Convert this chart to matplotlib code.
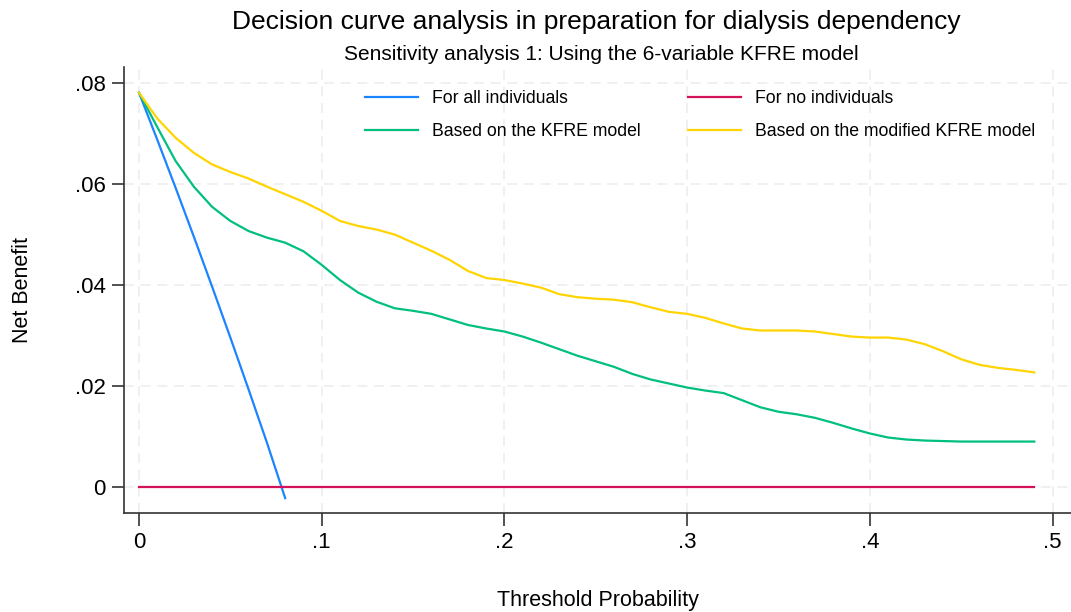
import matplotlib
matplotlib.use('Agg')
import matplotlib.pyplot as plt
import numpy as np

plt.rcParams['font.family'] = ['Liberation Sans', 'DejaVu Sans']

# threshold probabilities (step 0.01)
thresh = [round(0.01 * i, 2) for i in range(50)]

# net benefit, treat all (only drawn until it drops below zero)
thresh_all = [0.00, 0.01, 0.02, 0.03, 0.04, 0.05, 0.06, 0.07, 0.08]
nb_all = [0.0781, 0.0688, 0.0593, 0.0496, 0.0397, 0.0296, 0.0193, 0.0088, -0.0022]

# net benefit, treat none
nb_none = [0.0] * 50

# KFRE model
nb_kfre = [0.0781, 0.0713, 0.0646, 0.0595, 0.0555, 0.0527, 0.0507, 0.0494, 0.0484, 0.0467,
           0.0440, 0.0410, 0.0385, 0.0367, 0.0354, 0.0349, 0.0343, 0.0332, 0.0321, 0.0314,
           0.0308, 0.0298, 0.0286, 0.0273, 0.0260, 0.0249, 0.0238, 0.0224, 0.0213, 0.0205,
           0.0197, 0.0191, 0.0186, 0.0172, 0.0158, 0.0149, 0.0144, 0.0137, 0.0127, 0.0116,
           0.0106, 0.0098, 0.0094, 0.0092, 0.0091, 0.0090, 0.0090, 0.0090, 0.0090, 0.0090]

# modified KFRE model
nb_mod = [0.0781, 0.0730, 0.0692, 0.0662, 0.0639, 0.0624, 0.0611, 0.0595, 0.0580, 0.0565,
          0.0547, 0.0527, 0.0517, 0.0510, 0.0500, 0.0484, 0.0468, 0.0450, 0.0428, 0.0414,
          0.0410, 0.0403, 0.0395, 0.0382, 0.0376, 0.0373, 0.0371, 0.0366, 0.0356, 0.0347,
          0.0343, 0.0335, 0.0324, 0.0314, 0.0310, 0.0310, 0.0310, 0.0308, 0.0303, 0.0298,
          0.0296, 0.0296, 0.0292, 0.0283, 0.0269, 0.0253, 0.0242, 0.0236, 0.0232, 0.0227]

xticks = [0, 0.1, 0.2, 0.3, 0.4, 0.5]
xtick_labels = ['0', '.1', '.2', '.3', '.4', '.5']
yticks = [0, 0.02, 0.04, 0.06, 0.08]
ytick_labels = ['0', '.02', '.04', '.06', '.08']

fig = plt.figure(figsize=(10.71, 6.12), dpi=100)
ax = fig.add_axes([0.1158, 0.1618, 0.8842, 0.7287])

lw = 1.6
ax.plot(thresh_all, nb_all, color='#1a85ff', lw=lw, label='For all individuals')
ax.plot(thresh, nb_kfre, color='#00bf7f', lw=lw, label='Based on the KFRE model')
ax.plot(thresh, nb_none, color='#d41159', lw=lw, label='For no individuals')
ax.plot(thresh, nb_mod, color='#ffd400', lw=lw, label='Based on the modified KFRE model')

ax.set_xlim(-0.0082, 0.5101)
ax.set_ylim(-0.00515, 0.0832)
ax.set_xticks(xticks)
ax.set_xticklabels(xtick_labels)
ax.set_yticks(yticks)
ax.set_yticklabels(ytick_labels)
ax.tick_params(axis='both', labelsize=16, color='#333333', width=1.2)
ax.tick_params(axis='x', length=9, pad=5)
ax.tick_params(axis='y', length=9, pad=4)

ax.grid(True, color='#eeeeee', linestyle=(0, (6, 4)), lw=1.2)
ax.set_axisbelow(True)
for s in ['top', 'right']:
    ax.spines[s].set_visible(False)
for s in ['left', 'bottom']:
    ax.spines[s].set_color('#333333')
    ax.spines[s].set_linewidth(1.2)

ax.set_ylabel('Net Benefit', fontsize=15.5, labelpad=30)
ax.set_xlabel('Threshold Probability', fontsize=15.5, labelpad=26)

ax.legend(loc='upper left', bbox_to_anchor=(0.2545, 0.948), ncol=2, frameon=False,
          fontsize=12.7, handlelength=3.0, handletextpad=0.8, columnspacing=2.7,
          labelspacing=0.88, borderpad=0, borderaxespad=0)

fig.text(0.557, 0.964, 'Decision curve analysis in preparation for dialysis dependency',
         ha='center', va='center', fontsize=19)
fig.text(0.561, 0.911, 'Sensitivity analysis 1: Using the 6-variable KFRE model',
         ha='center', va='center', fontsize=15)

fig.savefig('out.png', dpi=100)
